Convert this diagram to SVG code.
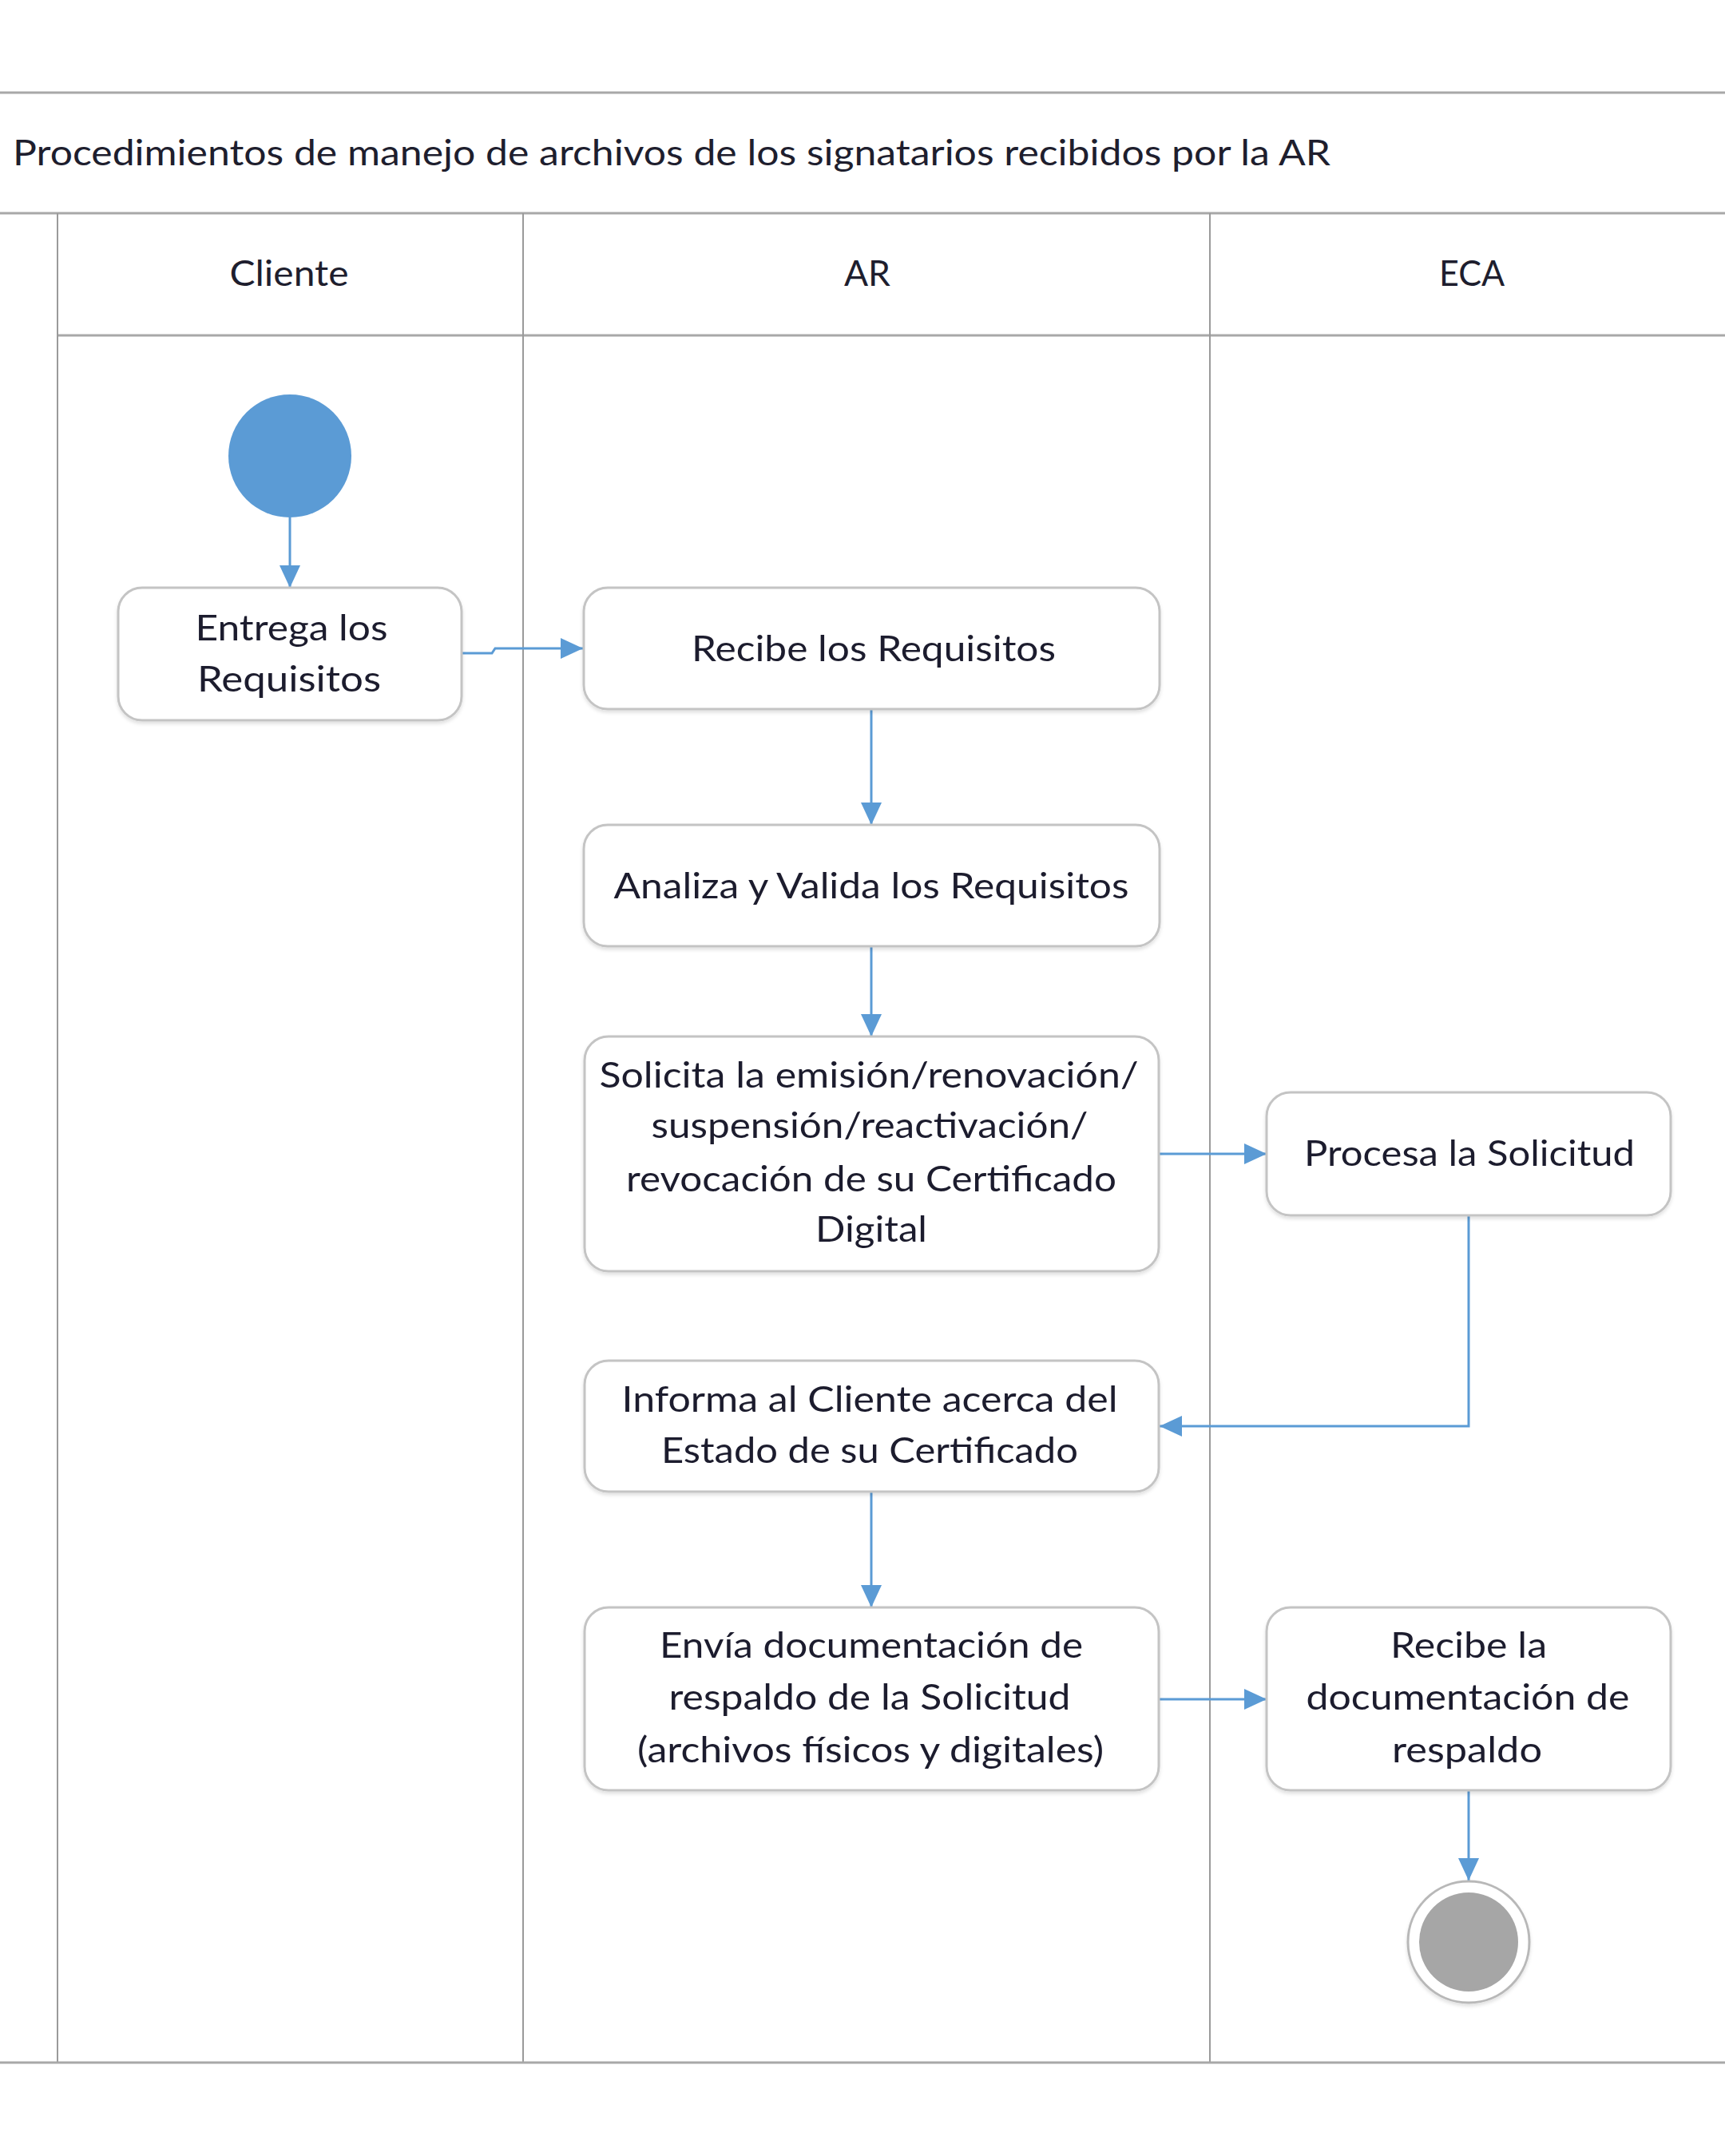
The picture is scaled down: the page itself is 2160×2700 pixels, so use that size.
<svg xmlns="http://www.w3.org/2000/svg" width="2160" height="2700" viewBox="0 0 2160 2700">
<defs>
<style>
.t{font-family:Lato,"Liberation Sans",sans-serif;font-size:44px;fill:#1e1e2e;text-anchor:middle}
.ttl{font-family:Lato,"Liberation Sans",sans-serif;font-size:44px;fill:#1e1e2e}
.box{fill:#ffffff;stroke:#c4c4c4;stroke-width:3}
.hl{stroke:#a8a8a8;stroke-width:3;fill:none}
.vl{stroke:#9a9a9a;stroke-width:2;fill:none}
.c{stroke:#5b9bd5;stroke-width:3;fill:none;marker-end:url(#ah)}
</style>
<marker id="ah" markerUnits="userSpaceOnUse" markerWidth="30" markerHeight="28" refX="28" refY="13" orient="auto">
<path d="M0,0 L28,13 L0,26 Z" fill="#5b9bd5"/>
</marker>
<filter id="sh" x="-10%" y="-10%" width="120%" height="130%">
<feDropShadow dx="0" dy="3" stdDeviation="2" flood-color="#000" flood-opacity="0.12"/>
</filter>
</defs>
<rect width="2160" height="2700" fill="#ffffff"/>
<g id="pool">
<line class="hl" x1="0" y1="116" x2="2160" y2="116"/>
<text class="ttl" x="16" y="207" textLength="1650" lengthAdjust="spacingAndGlyphs">Procedimientos de manejo de archivos de los signatarios recibidos por la AR</text>
<line class="hl" x1="0" y1="267" x2="2160" y2="267"/>
<line class="hl" x1="72" y1="420" x2="2160" y2="420"/>
<line class="vl" x1="72" y1="267" x2="72" y2="2582"/>
<line class="vl" x1="655" y1="267" x2="655" y2="2582"/>
<line class="vl" x1="1515" y1="267" x2="1515" y2="2582"/>
<line class="hl" x1="0" y1="2583" x2="2160" y2="2583"/>
<text class="t" x="362" y="358" textLength="149" lengthAdjust="spacingAndGlyphs">Cliente</text>
<text class="t" x="1086" y="358" textLength="58" lengthAdjust="spacingAndGlyphs">AR</text>
<text class="t" x="1843" y="358" textLength="82" lengthAdjust="spacingAndGlyphs">ECA</text>
</g>
<g id="connectors">
<path class="c" d="M363,648 V736"/>
<path class="c" d="M578,818 H616 L620,812 H730"/>
<path class="c" d="M1091,888 V1033"/>
<path class="c" d="M1091,1185 V1298"/>
<path class="c" d="M1451,1445 H1586"/>
<path class="c" d="M1839,1522 V1786 H1452"/>
<path class="c" d="M1091,1868 V2013"/>
<path class="c" d="M1451,2128 H1586"/>
<path class="c" d="M1839,2242 V2355"/>
</g>
<g id="start">
<circle cx="363" cy="571" r="77" fill="#5b9bd5"/>
</g>
<g id="n1" filter="url(#sh)">
<rect class="box" x="148" y="736" width="430" height="166" rx="30"/>
<text class="t" x="365" y="802" textLength="241" lengthAdjust="spacingAndGlyphs">Entrega los</text>
<text class="t" x="362" y="866" textLength="230" lengthAdjust="spacingAndGlyphs">Requisitos</text>
</g>
<g id="n2" filter="url(#sh)">
<rect class="box" x="731" y="736" width="721" height="152" rx="30"/>
<text class="t" x="1094" y="828" textLength="456" lengthAdjust="spacingAndGlyphs">Recibe los Requisitos</text>
</g>
<g id="n3" filter="url(#sh)">
<rect class="box" x="731" y="1033" width="721" height="152" rx="30"/>
<text class="t" x="1091" y="1125" textLength="645" lengthAdjust="spacingAndGlyphs">Analiza y Valida los Requisitos</text>
</g>
<g id="n4" filter="url(#sh)">
<rect class="box" x="732" y="1298" width="719" height="294" rx="30"/>
<text class="t" x="1088" y="1362" textLength="675" lengthAdjust="spacingAndGlyphs">Solicita la emisión/renovación/</text>
<text class="t" x="1089" y="1425" textLength="547" lengthAdjust="spacingAndGlyphs">suspensión/reactivación/</text>
<text class="t" x="1091" y="1492" textLength="614" lengthAdjust="spacingAndGlyphs">revocación de su Certificado</text>
<text class="t" x="1091" y="1555" textLength="140" lengthAdjust="spacingAndGlyphs">Digital</text>
</g>
<g id="n5" filter="url(#sh)">
<rect class="box" x="1586" y="1368" width="506" height="154" rx="30"/>
<text class="t" x="1840" y="1460" textLength="414" lengthAdjust="spacingAndGlyphs">Procesa la Solicitud</text>
</g>
<g id="n6" filter="url(#sh)">
<rect class="box" x="732" y="1704" width="719" height="164" rx="30"/>
<text class="t" x="1089" y="1768" textLength="621" lengthAdjust="spacingAndGlyphs">Informa al Cliente acerca del</text>
<text class="t" x="1089" y="1832" textLength="522" lengthAdjust="spacingAndGlyphs">Estado de su Certificado</text>
</g>
<g id="n7" filter="url(#sh)">
<rect class="box" x="732" y="2013" width="719" height="229" rx="30"/>
<text class="t" x="1091" y="2076" textLength="530" lengthAdjust="spacingAndGlyphs">Envía documentación de</text>
<text class="t" x="1089" y="2141" textLength="503" lengthAdjust="spacingAndGlyphs">respaldo de la Solicitud</text>
<text class="t" x="1090" y="2207" textLength="584" lengthAdjust="spacingAndGlyphs">(archivos físicos y digitales)</text>
</g>
<g id="n8" filter="url(#sh)">
<rect class="box" x="1586" y="2013" width="506" height="229" rx="30"/>
<text class="t" x="1839" y="2076" textLength="196" lengthAdjust="spacingAndGlyphs">Recibe la</text>
<text class="t" x="1838" y="2141" textLength="405" lengthAdjust="spacingAndGlyphs">documentación de</text>
<text class="t" x="1837" y="2207" textLength="188" lengthAdjust="spacingAndGlyphs">respaldo</text>
</g>
<g id="end">
<circle cx="1839" cy="2432" r="76" fill="#ffffff" stroke="#b8b8b8" stroke-width="3" filter="url(#sh)"/>
<circle cx="1839" cy="2432" r="62" fill="#a6a6a6"/>
</g>
</svg>
